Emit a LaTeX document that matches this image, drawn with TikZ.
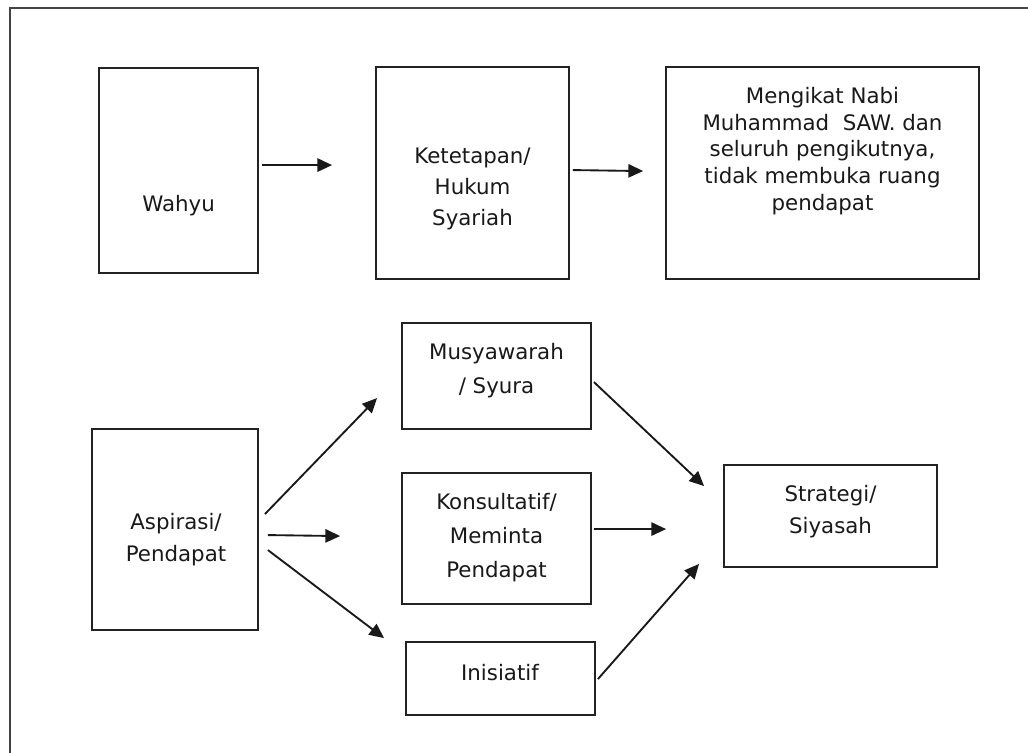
\documentclass[tikz,border=0pt]{standalone}
\usepackage{fontspec}
\setmainfont{DejaVu Sans}
\usetikzlibrary{arrows.meta,calc,fit}
\definecolor{linegray}{HTML}{222222}
\definecolor{framegray}{HTML}{444444}
\tikzset{
  box/.style={draw=linegray, line width=1.4pt, inner sep=0pt, rectangle},
  txt/.style={font=\fontsize{16pt}{24pt}\selectfont, align=center, inner sep=0pt, text=black!90},
  arr/.style={draw=black!90, line width=1.4pt, -{Triangle[length=11pt,width=10pt]}}
}
\begin{document}
\begin{tikzpicture}[x=0.75pt,y=-0.75pt]
\useasboundingbox (0,0) rectangle (1028,753);
\fill[white] (0,0) rectangle (1028,753);
\begin{scope}
\clip (0,0) rectangle (1028,753);
\draw[framegray, line width=2pt] (10,8) rectangle (1045,775);
\end{scope}
% top row
\node[box, fit={(99,68) (258,273)}] (wahyu) {};
\node[txt] (wahyuT) at (178.5,206) {Wahyu};
\node[box, fit={(376,67) (569,279)}] (ket) {};
\node[txt, font=\fontsize{16pt}{23pt}\selectfont] (ketT) at (472.5,189) {Ketetapan/\\Hukum\\Syariah};
\node[box, fit={(666,67) (979,279)}] (meng) {};
\node[txt, font=\fontsize{16pt}{20pt}\selectfont] (mengT) at (822.5,151) {Mengikat Nabi\\Muhammad\ \ SAW. dan\\seluruh pengikutnya,\\tidak membuka ruang\\pendapat};
% bottom row
\node[box, fit={(92,429) (258,630)}] (asp) {};
\node[txt] (aspT) at (176,540) {Aspirasi/\\Pendapat};
\node[box, fit={(402,323) (591,429)}] (mus) {};
\node[txt, font=\fontsize{16pt}{25.5pt}\selectfont] (musT) at (496.5,371) {Musyawarah\\/ Syura};
\node[box, fit={(402,473) (591,604)}] (kon) {};
\node[txt, font=\fontsize{16pt}{25.5pt}\selectfont] (konT) at (496.5,538) {Konsultatif/\\Meminta\\Pendapat};
\node[box, fit={(406,642) (595,715)}] (ini) {};
\node[txt] (iniT) at (500,673) {Inisiatif};
\node[box, fit={(724,465) (937,567)}] (str) {};
\node[txt] (strT) at (830.5,512) {Strategi/\\Siyasah};
% connectors
\draw[arr] ($(wahyu.north east)+(3,98)$) -- ($(ket.north west)+(-43,99)$);
\draw[arr] ($(ket.north east)+(3,104)$) -- ($(meng.north west)+(-22,105)$);
\draw[arr] ($(asp.north east)+(6,86)$) -- ($(mus.north west)+(-24,76)$);
\draw[arr] ($(asp.north east)+(9,107)$) -- ($(kon.north west)+(-61,64)$);
\draw[arr] ($(asp.north east)+(9,122)$) -- ($(ini.north west)+(-21,-3)$);
\draw[arr] ($(mus.north east)+(2,60)$) -- ($(str.north west)+(-19,22)$);
\draw[arr] ($(kon.north east)+(2,57)$) -- ($(str.north west)+(-57,65)$);
\draw[arr] ($(ini.north east)+(2,38)$) -- ($(str.south west)+(-24,-4)$);
\end{tikzpicture}
\end{document}
